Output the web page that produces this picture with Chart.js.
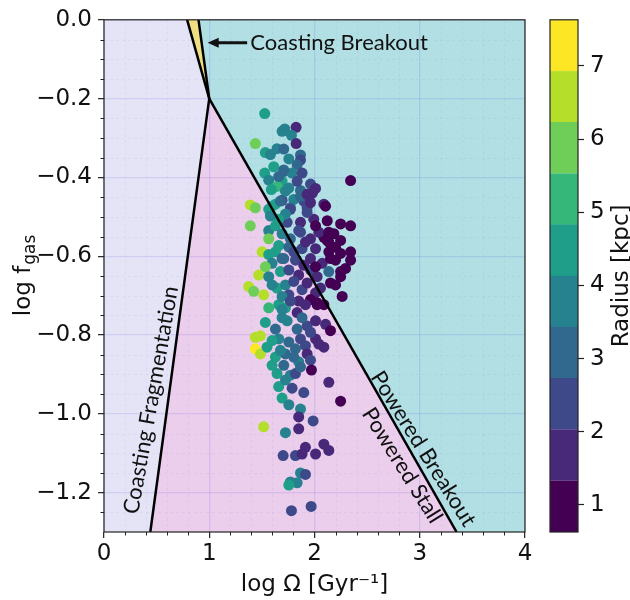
<!DOCTYPE html>
<html>
<head>
<meta charset="utf-8">
<script src="https://cdn.jsdelivr.net/npm/chart.js@4.4.0/dist/chart.umd.min.js"></script>
<style>
  html, body { margin: 0; padding: 0; background: #fff; }
  #wrap { position: relative; width: 630px; height: 600px; }
  #wrap canvas { position: absolute; left: 0; top: 0; }
</style>
</head>
<body>
<div id="wrap">
  <canvas id="mainChart" width="630" height="600"></canvas>
  <canvas id="cbarChart" width="630" height="600"></canvas>
</div>
<script>
// galaxies: log Omega, log f_gas, radius (kpc)
const logOmega = [
  1.527, 1.825, 1.717, 1.692, 1.781, 1.438, 1.826, 1.533, 1.581, 1.644,
  1.708, 1.756, 1.867, 1.867, 1.835, 1.708, 1.527, 1.565, 1.787, 1.882,
  1.692, 1.644, 1.590, 1.756, 1.867, 1.962, 2.010, 1.980, 2.343, 2.089,
  1.390, 1.438, 1.692, 1.803, 1.898, 1.629, 1.771, 1.565, 1.930, 1.867,
  1.390, 1.565, 1.629, 1.740, 1.867, 1.993, 2.121, 2.248, 2.343, 2.105,
  1.771, 1.850, 1.962, 2.089, 2.248, 1.565, 1.660, 1.756, 1.882, 2.010,
  2.136, 2.248, 2.343, 1.502, 1.565, 1.597, 1.708, 1.819, 1.962, 2.073,
  2.200, 2.343, 1.533, 1.470, 1.565, 1.676, 1.756, 1.850, 1.962, 2.025,
  2.136, 2.248, 2.152, 1.375, 1.422, 1.517, 1.644, 1.724, 1.756, 1.882,
  2.010, 2.263, 1.660, 1.850, 1.962, 2.089, 1.724, 1.565, 1.692, 1.835,
  2.025, 1.533, 1.629, 1.740, 1.835, 1.930, 2.010, 2.105, 2.152, 1.438,
  1.486, 1.438, 1.486, 1.549, 1.660, 1.756, 1.867, 2.010, 2.089, 1.629,
  1.724, 1.819, 1.914, 1.930, 1.708, 1.850, 1.962, 1.971, 1.644, 1.771,
  1.819, 2.136, 1.660, 1.787, 1.898, 1.692, 2.248, 1.756, 1.867, 1.850,
  1.987, 1.517, 1.724, 1.850, 1.914, 2.089, 2.136, 2.010, 1.702, 1.819,
  1.882, 1.867, 1.914, 1.771, 1.835, 1.756, 1.781, 1.968,
  1.930, 1.724, 1.660, 1.581, 2.041, 1.914, 2.136, 2.200, 1.771, 1.692,
  1.629, 1.898, 2.010, 1.803, 1.930, 2.057, 1.597, 1.692, 1.771, 1.914,
  2.025, 2.200, 2.295, 2.184, 1.835, 1.930, 1.724, 1.660, 1.613, 1.962,
  1.692, 1.882, 1.962, 1.597, 1.676, 1.803, 2.041, 1.867, 1.597, 1.724,
  1.708, 1.597, 1.676, 2.010, 1.867, 2.136, 2.121, 2.152, 2.248, 1.803,
  1.692
];
const logFgas = [
  -0.238, -0.273, -0.277, -0.283, -0.293, -0.314, -0.314, -0.337, -0.342, -0.327,
  -0.328, -0.353, -0.343, -0.356, -0.368, -0.385, -0.389, -0.407, -0.389, -0.389,
  -0.410, -0.423, -0.431, -0.427, -0.433, -0.417, -0.428, -0.440, -0.408, -0.468,
  -0.470, -0.477, -0.458, -0.456, -0.460, -0.468, -0.477, -0.481, -0.477, -0.448,
  -0.523, -0.535, -0.523, -0.514, -0.514, -0.506, -0.510, -0.518, -0.523, -0.473,
  -0.481, -0.535, -0.556, -0.552, -0.560, -0.556, -0.573, -0.577, -0.581, -0.581,
  -0.589, -0.593, -0.589, -0.589, -0.596, -0.618, -0.606, -0.610, -0.606, -0.618,
  -0.610, -0.610, -0.627, -0.648, -0.652, -0.639, -0.635, -0.648, -0.635, -0.652,
  -0.639, -0.652, -0.668, -0.677, -0.689, -0.698, -0.681, -0.673, -0.698, -0.685,
  -0.693, -0.702, -0.723, -0.714, -0.710, -0.723, -0.731, -0.731, -0.735, -0.743,
  -0.723, -0.768, -0.785, -0.764, -0.785, -0.777, -0.764, -0.773, -0.789, -0.806,
  -0.802, -0.835, -0.848, -0.831, -0.810, -0.818, -0.810, -0.810, -0.831, -0.856,
  -0.848, -0.835, -0.827, -0.848, -0.877, -0.868, -0.864, -0.889, -0.898, -0.902,
  -0.898, -0.920, -0.931, -0.935, -0.946, -0.960, -0.968, -0.977, -0.988, -1.008,
  -1.018, -1.033, -1.048, -1.038, -1.085, -1.077, -1.093, -1.102, -1.106, -1.106,
  -1.102, -1.150, -1.154, -1.173, -1.175, -1.181, -1.246, -1.235,
  -0.489, -0.493, -0.506, -0.498, -0.539, -0.564, -0.564, -0.577, -0.556, -0.543,
  -0.589, -0.623, -0.627, -0.664, -0.668, -0.681, -0.673, -0.702, -0.714, -0.723,
  -0.718, -0.673, -0.631, -0.543, -0.410, -0.443, -0.435, -0.398, -0.373, -0.464,
  -0.756, -0.756, -0.793, -0.814, -0.839, -0.856, -0.823, -0.881, -0.877, -0.914,
  -0.381, -0.473, -0.460, -0.523, -0.539, -0.539, -0.560, -0.606, -0.639, -0.589,
  -0.606
];
const radiusKpc = [
  4.5, 1.7, 3.8, 3.8, 3.8, 5.9, 1.7, 4.5, 3.8, 3.8,
  3.1, 3.8, 3.1, 2.4, 3.1, 3.1, 4.5, 3.8, 3.8, 2.4,
  4.5, 5.2, 4.5, 3.8, 3.1, 2.4, 1.7, 1.7, 1.0, 1.7,
  6.6, 5.9, 2.4, 3.8, 2.4, 4.5, 3.1, 4.5, 2.4, 3.1,
  5.9, 3.8, 4.5, 2.4, 1.7, 1.7, 1.0, 1.0, 1.0, 1.0,
  2.4, 2.4, 1.7, 1.0, 1.0, 5.9, 4.5, 3.1, 2.4, 1.7,
  1.0, 1.0, 1.0, 6.6, 4.5, 3.8, 3.1, 2.4, 1.7, 1.7,
  1.0, 1.0, 5.9, 6.6, 3.8, 4.5, 2.4, 1.7, 2.4, 1.7,
  3.1, 1.0, 1.0, 6.6, 5.9, 6.6, 4.5, 3.8, 2.4, 2.4,
  1.7, 1.0, 4.5, 1.7, 1.0, 1.0, 4.5, 5.2, 3.8, 1.7,
  1.0, 4.5, 3.1, 3.8, 3.1, 2.4, 1.7, 1.7, 1.0, 6.6,
  6.6, 7.3, 6.6, 4.5, 3.8, 3.1, 2.4, 1.7, 1.7, 4.5,
  3.1, 3.1, 2.4, 1.7, 3.1, 3.8, 2.4, 1.0, 4.5, 3.8,
  2.4, 1.7, 4.5, 2.4, 2.4, 4.5, 1.0, 3.8, 3.8, 1.7,
  2.4, 6.6, 3.8, 1.7, 1.7, 1.7, 1.7, 1.7, 2.4, 2.4,
  1.7, 3.8, 2.4, 3.8, 3.8, 4.5, 2.4, 2.4,
  2.4, 3.8, 4.5, 3.8, 1.7, 1.7, 1.0, 1.0, 3.1, 3.8,
  4.5, 1.7, 1.0, 2.4, 1.7, 1.7, 3.8, 3.8, 2.4, 1.7,
  1.0, 1.0, 1.0, 1.0, 2.4, 1.7, 3.8, 3.1, 4.5, 1.7,
  3.8, 3.1, 2.4, 4.5, 3.8, 3.1, 1.7, 3.1, 4.5, 3.8,
  3.1, 4.5, 3.1, 1.0, 2.4, 1.0, 1.0, 1.0, 1.0, 2.4,
  3.1
];

// regime boundaries (log Omega, log f_gas)
const fragX = [0.44, 1.0, 0.898];
const fragY = [-1.3, -0.2, 0.0];
const poweredX = [1.0, 3.35];
const poweredY = [-0.2, -1.3];
const coastBreakX = [1.0, 0.79];
const coastBreakY = [-0.2, 0.0];

// axes and colorbar
const xTicks = [0, 1, 2, 3, 4];
const yTicks = [-1.2, -1.0, -0.8, -0.6, -0.4, -0.2, 0.0];
const radiusEdges = [0.63, 1.33, 2.03, 2.73, 3.43, 4.13, 4.83, 5.53, 6.23, 6.93, 7.63];
const radiusTicks = [1, 2, 3, 4, 5, 6, 7];
const viridis10 = ['#440154', '#482878', '#3e4989', '#31688e', '#26828e',
                   '#1f9e89', '#35b779', '#6ece58', '#b5de2b', '#fde725'];

const TICK_FONT = { family: 'DejaVu Sans', size: 23 };
const NOTE_FONT = '22px Lato';

function radiusColor(r) {
  for (let i = 0; i < viridis10.length; i++) {
    if (r < radiusEdges[i + 1]) return viridis10[i];
  }
  return viridis10[viridis10.length - 1];
}
const pts = (xs, ys) => xs.map((x, i) => ({ x: x, y: ys[i] }));

// shaded regimes, minor grid, frame, labels and notes
const regimePlugin = {
  id: 'regimes',
  beforeDraw(chart) {
    const { ctx, chartArea: a, scales: { x, y } } = chart;
    const poly = (xs, ys, color) => {
      ctx.beginPath();
      xs.forEach((v, i) => {
        const px = x.getPixelForValue(v), py = y.getPixelForValue(ys[i]);
        i ? ctx.lineTo(px, py) : ctx.moveTo(px, py);
      });
      ctx.closePath();
      ctx.fillStyle = color;
      ctx.fill();
    };
    ctx.save();
    ctx.beginPath();
    ctx.rect(a.left, a.top, a.right - a.left, a.bottom - a.top);
    ctx.clip();
    ctx.fillStyle = '#e4e4f6';
    ctx.fillRect(a.left, a.top, a.right - a.left, a.bottom - a.top);
    // powered breakout: right of powered line and frag line extension
    poly([fragX[2], fragX[1], poweredX[1], x.max, x.max],
         [fragY[2], fragY[1], poweredY[1], y.min, y.max], '#b1dfe4');
    // powered stall
    poly([fragX[0], fragX[1], poweredX[1]], [fragY[0], fragY[1], poweredY[1]], '#ebcdec');
    // coasting breakout sliver
    poly([coastBreakX[1], coastBreakX[0], fragX[2]], [coastBreakY[1], coastBreakY[0], fragY[2]], '#efdf83');

    // minor grid
    ctx.strokeStyle = 'rgba(40,40,220,0.05)';
    ctx.lineWidth = 1;
    ctx.setLineDash([3, 3]);
    for (let k = 1; k < 20; k++) {
      if (k % 5 === 0) continue;
      const px = Math.round(x.getPixelForValue(k * 0.2)) + 0.5;
      ctx.beginPath(); ctx.moveTo(px, a.top); ctx.lineTo(px, a.bottom); ctx.stroke();
    }
    for (let k = 1; k < 26; k++) {
      if (k % 4 === 0) continue;
      const py = Math.round(y.getPixelForValue(-k * 0.05)) + 0.5;
      ctx.beginPath(); ctx.moveTo(a.left, py); ctx.lineTo(a.right, py); ctx.stroke();
    }
    ctx.restore();
  },
  afterDraw(chart) {
    const { ctx, chartArea: a, scales: { x, y } } = chart;
    ctx.save();
    // frame
    ctx.strokeStyle = '#222';
    ctx.lineWidth = 1.2;
    ctx.strokeRect(a.left, a.top, a.right - a.left, a.bottom - a.top);
    // minor ticks
    ctx.lineWidth = 1;
    for (let k = 1; k < 20; k++) {
      if (k % 5 === 0) continue;
      const px = Math.round(x.getPixelForValue(k * 0.2)) + 0.5;
      ctx.beginPath(); ctx.moveTo(px, a.bottom); ctx.lineTo(px, a.bottom + 3.5); ctx.stroke();
    }
    for (let k = 1; k < 26; k++) {
      if (k % 4 === 0) continue;
      const py = Math.round(y.getPixelForValue(-k * 0.05)) + 0.5;
      ctx.beginPath(); ctx.moveTo(a.left - 3.5, py); ctx.lineTo(a.left, py); ctx.stroke();
    }

    // axis titles
    ctx.fillStyle = '#111';
    ctx.font = '23px DejaVu Sans';
    ctx.textAlign = 'center';
    ctx.textBaseline = 'alphabetic';
    ctx.fillText('log \u03a9 [Gyr\u207b\u00b9]', (a.left + a.right) / 2, 591);

    ctx.save();
    ctx.translate(30, (a.top + a.bottom) / 2);
    ctx.rotate(-Math.PI / 2);
    ctx.textAlign = 'left';
    const main = 'log f', sub = 'gas';
    const w1 = ctx.measureText(main).width;
    ctx.font = '17px DejaVu Sans';
    const w2 = ctx.measureText(sub).width;
    const x0 = -(w1 + w2) / 2;
    ctx.fillText(sub, x0 + w1 + 1, 5);
    ctx.font = '23px DejaVu Sans';
    ctx.fillText(main, x0, 0);
    ctx.restore();

    // regime notes
    ctx.fillStyle = '#111';
    ctx.font = NOTE_FONT;
    ctx.textBaseline = 'middle';
    const note = (text, vx, vy, deg) => {
      ctx.save();
      ctx.translate(x.getPixelForValue(vx), y.getPixelForValue(vy));
      ctx.rotate(deg * Math.PI / 180);
      ctx.textAlign = 'center';
      ctx.fillText(text, 0, 0);
      ctx.restore();
    };
    note('Coasting Fragmentation', 0.448, -0.965, -80);
    note('Powered Breakout', 3.033, -1.089, 58);
    note('Powered Stall', 2.833, -1.131, 58);

    // coasting breakout arrow
    const ay = y.getPixelForValue(-0.058);
    const tail = x.getPixelForValue(1.36), tip = x.getPixelForValue(0.985);
    ctx.strokeStyle = '#111';
    ctx.lineWidth = 3;
    ctx.beginPath(); ctx.moveTo(tail, ay); ctx.lineTo(tip + 8, ay); ctx.stroke();
    ctx.beginPath();
    ctx.moveTo(tip, ay); ctx.lineTo(tip + 11, ay - 5); ctx.lineTo(tip + 11, ay + 5);
    ctx.closePath(); ctx.fill();
    ctx.textAlign = 'left';
    ctx.fillText('Coasting Breakout', x.getPixelForValue(1.39), ay);
    ctx.restore();
  }
};

const lineStyle = { showLine: true, borderColor: '#000', borderWidth: 2.5, pointRadius: 0, order: 0 };

new Chart(document.getElementById('mainChart'), {
  type: 'scatter',
  data: {
    datasets: [
      {
        data: pts(logOmega, logFgas),
        backgroundColor: radiusKpc.map(radiusColor),
        borderWidth: 0,
        pointRadius: 5.5,
        order: 1
      },
      Object.assign({ data: pts(fragX, fragY) }, lineStyle),
      Object.assign({ data: pts(poweredX, poweredY) }, lineStyle),
      Object.assign({ data: pts(coastBreakX, coastBreakY) }, lineStyle)
    ]
  },
  options: {
    responsive: false,
    animation: false,
    layout: { padding: { left: 0, right: 105, top: 11, bottom: 0 } },
    plugins: { legend: { display: false }, tooltip: { enabled: false } },
    scales: {
      x: {
        type: 'linear', min: 0, max: 4,
        afterBuildTicks: s => { s.ticks = xTicks.map(v => ({ value: v })); },
        afterFit: s => { s.height = 68; },
        ticks: { font: TICK_FONT, color: '#111', padding: 2, callback: v => String(v) },
        grid: { color: 'rgba(40,40,220,0.11)', lineWidth: 1.3, tickLength: 6, tickColor: '#222', tickWidth: 1.2 },
        border: { display: false }
      },
      y: {
        type: 'linear', min: -1.3, max: 0,
        afterBuildTicks: s => { s.ticks = yTicks.map(v => ({ value: v })); },
        afterFit: s => { s.width = 104; },
        ticks: { font: TICK_FONT, color: '#111', padding: 6,
                 callback: v => v.toFixed(1).replace('-', '\u2212') },
        grid: { color: 'rgba(40,40,220,0.11)', lineWidth: 1.3, tickLength: 6, tickColor: '#222', tickWidth: 1.2 },
        border: { display: false }
      }
    }
  },
  plugins: [regimePlugin]
});

// colorbar
const cbarPlugin = {
  id: 'cbarFrame',
  afterDraw(chart) {
    const { ctx, chartArea: a } = chart;
    ctx.save();
    ctx.strokeStyle = '#222';
    ctx.lineWidth = 1.2;
    ctx.strokeRect(a.left, a.top, a.right - a.left, a.bottom - a.top);
    ctx.fillStyle = '#111';
    ctx.font = '23px DejaVu Sans';
    ctx.translate(628, (a.top + a.bottom) / 2);
    ctx.rotate(-Math.PI / 2);
    ctx.textAlign = 'center';
    ctx.fillText('Radius [kpc]', 0, 0);
    ctx.restore();
  }
};

new Chart(document.getElementById('cbarChart'), {
  type: 'bar',
  data: {
    labels: [''],
    datasets: viridis10.map((c, i) => ({
      data: [[radiusEdges[i], radiusEdges[i + 1]]],
      backgroundColor: c,
      borderColor: c,
      borderWidth: 0.5,
      barPercentage: 1,
      categoryPercentage: 1,
      grouped: false
    }))
  },
  options: {
    responsive: false,
    animation: false,
    layout: { padding: { left: 550, right: 0, top: 11, bottom: 68 } },
    plugins: { legend: { display: false }, tooltip: { enabled: false } },
    scales: {
      x: { display: false },
      y: {
        position: 'right',
        min: radiusEdges[0], max: radiusEdges[radiusEdges.length - 1],
        afterBuildTicks: s => { s.ticks = radiusTicks.map(v => ({ value: v })); },
        afterFit: s => { s.width = 52; },
        ticks: { font: TICK_FONT, color: '#111', padding: 6 },
        grid: { drawOnChartArea: false, tickLength: 6, tickColor: '#222', tickWidth: 1.2 },
        border: { display: false }
      }
    }
  },
  plugins: [cbarPlugin]
});
</script>
</body>
</html>
